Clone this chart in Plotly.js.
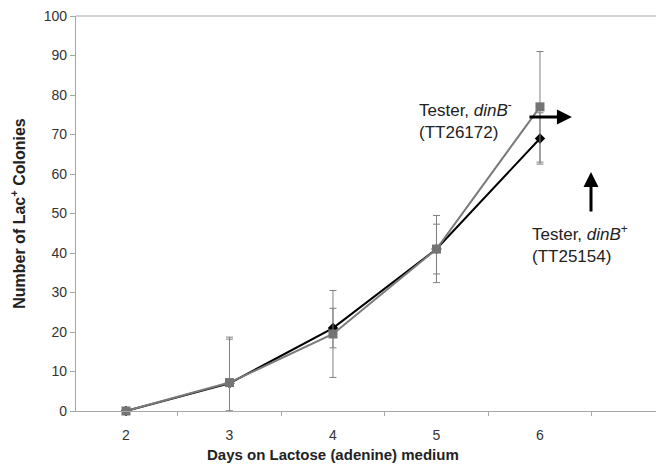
<!DOCTYPE html>
<html><head><meta charset="utf-8">
<script src="https://cdn.plot.ly/plotly-3.0.1.min.js"></script>
<style>html,body{margin:0;padding:0;background:#fff}#chart{width:656px;height:464px}</style>
</head><body><div id="chart"></div>
<script>
const days = [2, 3, 4, 5, 6];
const dinBplus = [0, 7, 21, 41, 69];
const dinBplusErrUp = [0, 11.2, 5, 6.3, 6.5];
const dinBplusErrDown = [0, 7, 5, 6.3, 6.5];
const dinBminus = [0, 7.2, 19.5, 41, 77];
const dinBminusErrUp = [0, 11.5, 11, 8.5, 14];
const dinBminusErrDown = [0, 7.2, 11, 8.5, 14];
const dayTicks = [2, 3, 4, 5, 6];
const dividerTicks = [1.5, 2.5, 3.5, 4.5, 5.5, 6.5];
const yTicks = [0, 10, 20, 30, 40, 50, 60, 70, 80, 90, 100];

const traces = [
  {x: days, y: dinBplus, type: 'scatter', mode: 'lines+markers', cliponaxis: false,
   line: {color: '#000', width: 2},
   marker: {symbol: 'diamond', size: 8, color: '#000'},
   error_y: {type: 'data', symmetric: false, array: dinBplusErrUp, arrayminus: dinBplusErrDown,
             color: '#808080', thickness: 1, width: 3.5}},
  {x: days, y: dinBminus, type: 'scatter', mode: 'lines+markers', cliponaxis: false,
   line: {color: '#7a7a7a', width: 2},
   marker: {symbol: 'square', size: 9, color: '#747474'},
   error_y: {type: 'data', symmetric: false, array: dinBminusErrUp, arrayminus: dinBminusErrDown,
             color: '#808080', thickness: 1, width: 3.5}},
  {x: [], y: [], xaxis: 'x2', type: 'scatter', showlegend: false}
];

const font = {family: 'Liberation Sans, Arial, sans-serif', color: '#222'};
const layout = {
  width: 656, height: 464,
  margin: {l: 76, r: 0, t: 16, b: 53},
  paper_bgcolor: '#fff', plot_bgcolor: '#fff',
  showlegend: false,
  font: font,
  xaxis: {range: [1.517, 7.121], tickvals: dayTicks, ticktext: dayTicks.map(String),
          showgrid: false, zeroline: false, showline: true, linecolor: '#a6a6a6', linewidth: 1.2,
          ticks: '', ticklabelstandoff: 11, tickfont: {size: 14, color: '#333'}},
  xaxis2: {overlaying: 'x', matches: 'x', range: [1.517, 7.121], tickvals: dividerTicks,
           showticklabels: false, showgrid: false, zeroline: false,
           ticks: 'outside', ticklen: 4, tickcolor: '#a6a6a6', side: 'bottom', showline: false},
  yaxis: {range: [0, 100], tickvals: yTicks, showgrid: false, zeroline: false,
          showline: true, linecolor: '#a6a6a6', linewidth: 1.2,
          ticks: 'outside', ticklen: 5, tickcolor: '#a6a6a6', tickfont: {size: 14, color: '#333'},
          title: {text: '<b>Number of Lac<sup>+</sup> Colonies</b>', font: {size: 16, color: '#222'}, standoff: 14}},
  shapes: [
    {type: 'line', xref: 'paper', yref: 'paper', x0: 0, x1: 1, y0: 1, y1: 1,
     line: {color: '#a6a6a6', width: 1.2}}
  ],
  annotations: [
    {xref: 'x', yref: 'paper', x: 4, y: 0, yshift: -33, yanchor: 'top', showarrow: false,
     text: '<b>Days on Lactose (adenine) medium</b>', font: {size: 15, color: '#222'}},
    {xref: 'x', yref: 'y', x: 4.812, y: 73.7, xanchor: 'left', yanchor: 'middle', align: 'left',
     showarrow: false, text: 'Tester, <i>dinB</i><sup>-</sup><br>(TT26172)', font: {size: 17, color: '#222'}},
    {xref: 'x', yref: 'y', x: 5.903, y: 42.3, xanchor: 'left', yanchor: 'middle', align: 'left',
     showarrow: false, text: 'Tester, <i>dinB</i><sup>+</sup><br>(TT25154)', font: {size: 17, color: '#222'}},
    {xref: 'x', yref: 'y', x: 6.309, y: 74.4, ax: -44, ay: 0, text: '', showarrow: true,
     arrowhead: 2, arrowsize: 1, arrowwidth: 3, arrowcolor: '#000'},
    {xref: 'x', yref: 'y', x: 6.493, y: 60.5, ax: 0, ay: 41, text: '', showarrow: true,
     arrowhead: 2, arrowsize: 1, arrowwidth: 3, arrowcolor: '#000'}
  ]
};
Plotly.newPlot('chart', traces, layout, {staticPlot: true, displayModeBar: false});
</script></body></html>
